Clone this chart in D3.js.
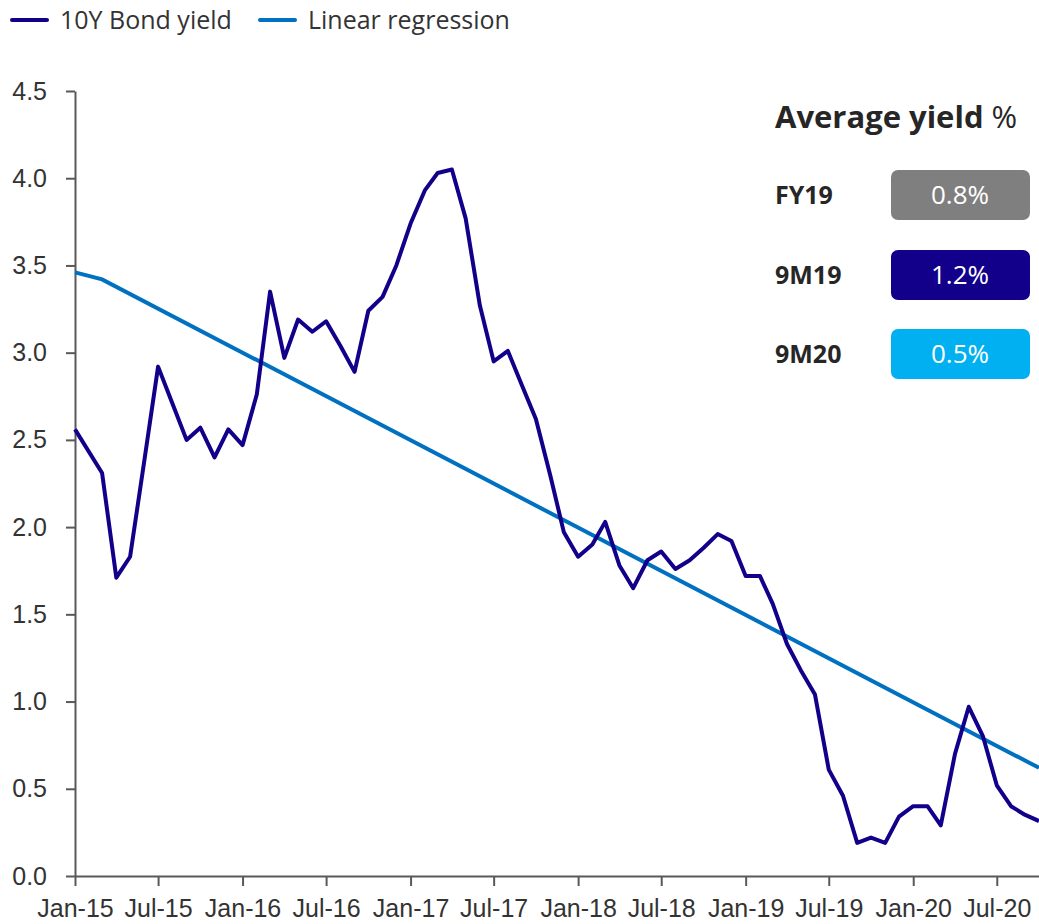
<!DOCTYPE html>
<html>
<head>
<meta charset="utf-8">
<script src="https://cdn.jsdelivr.net/npm/d3@7"></script>
<style>
  body { margin: 0; background: #fff; }
  svg { font-family: "Open Sans", "Noto Sans", sans-serif; }
</style>
</head>
<body>
<div id="chart"></div>
<script>

// months of the series (Feb-15 has no point)
var months = [
  "Jan-15","Mar-15","Apr-15","May-15","Jun-15","Jul-15","Aug-15","Sep-15","Oct-15","Nov-15","Dec-15",
  "Jan-16","Feb-16","Mar-16","Apr-16","May-16","Jun-16","Jul-16","Aug-16","Sep-16","Oct-16","Nov-16","Dec-16",
  "Jan-17","Feb-17","Mar-17","Apr-17","May-17","Jun-17","Jul-17","Aug-17","Sep-17","Oct-17","Nov-17","Dec-17",
  "Jan-18","Feb-18","Mar-18","Apr-18","May-18","Jun-18","Jul-18","Aug-18","Sep-18","Oct-18","Nov-18","Dec-18",
  "Jan-19","Feb-19","Mar-19","Apr-19","May-19","Jun-19","Jul-19","Aug-19","Sep-19","Oct-19","Nov-19","Dec-19",
  "Jan-20","Feb-20","Mar-20","Apr-20","May-20","Jun-20","Jul-20","Aug-20","Sep-20","Oct-20"
];

var bondYield = [
  2.56, 2.31, 1.71, 1.83, 2.38, 2.92, 2.71, 2.50, 2.57, 2.40, 2.56,
  2.47, 2.76, 3.35, 2.97, 3.19, 3.12, 3.18, 3.04, 2.89, 3.24, 3.32, 3.50,
  3.74, 3.93, 4.03, 4.05, 3.77, 3.27, 2.95, 3.01, 2.81, 2.62, 2.30, 1.97,
  1.83, 1.90, 2.03, 1.78, 1.65, 1.81, 1.86, 1.76, 1.81, 1.88, 1.96, 1.92,
  1.72, 1.72, 1.56, 1.33, 1.18, 1.04, 0.61, 0.46, 0.19, 0.22, 0.19, 0.34,
  0.40, 0.40, 0.29, 0.70, 0.97, 0.80, 0.52, 0.40, 0.35, 0.315
];

// regression line, read at its ends and at the kink
var regMonths = ["Jan-15", "Mar-15", "Oct-20"];
var regValues = [3.46, 3.42, 0.62];

var tickMonths = ["Jan-15","Jul-15","Jan-16","Jul-16","Jan-17","Jul-17","Jan-18","Jul-18","Jan-19","Jul-19","Jan-20","Jul-20"];
var yTicks = [0, 0.5, 1, 1.5, 2, 2.5, 3, 3.5, 4, 4.5];

var avgLabels = ["FY19", "9M19", "9M20"];
var avgValues = ["0.8%", "1.2%", "0.5%"];
var avgColors = ["#7f7f7f", "#12008a", "#00b0f0"];

var svgWidth = 1039;
var svgHeight = 924;

var parseMonth = d3.timeParse("%b-%y");

var svg = d3.select("#chart")
  .append("svg")
  .attr("width", svgWidth)
  .attr("height", svgHeight);

var x = d3.scaleTime()
  .domain([parseMonth("Jan-15"), parseMonth("Oct-20")])
  .range([75, 1039]);

var y = d3.scaleLinear()
  .domain([0, 4.5])
  .range([876, 91]);

// axes
var xAxis = svg.append("g")
  .attr("transform", "translate(0,876)")
  .call(d3.axisBottom(x)
    .tickValues(tickMonths.map(parseMonth))
    .tickFormat(d3.timeFormat("%b-%y"))
    .tickSize(10)
    .tickSizeOuter(0)
    .tickPadding(13));

var yAxis = svg.append("g")
  .attr("transform", "translate(75,0)")
  .call(d3.axisLeft(y)
    .tickValues(yTicks)
    .tickFormat(d3.format(".1f"))
    .tickSize(9)
    .tickSizeOuter(0)
    .tickPadding(19));

[xAxis, yAxis].forEach(function(g) {
  g.select(".domain").attr("stroke", "#595959").attr("stroke-width", 2);
  g.selectAll(".tick line").attr("stroke", "#595959").attr("stroke-width", 2);
  g.selectAll(".tick text")
    .attr("fill", "#333")
    .attr("font-size", 25);
});

// lines
var bondData = months.map(function(m, i) { return { date: parseMonth(m), value: bondYield[i] }; });
var regData = regMonths.map(function(m, i) { return { date: parseMonth(m), value: regValues[i] }; });

var line = d3.line()
  .x(d => x(d.date))
  .y(d => y(d.value));

svg.append("path")
  .datum(regData)
  .attr("d", line)
  .attr("fill", "none")
  .attr("stroke", "#0070c0")
  .attr("stroke-width", 4);

svg.append("path")
  .datum(bondData)
  .attr("d", line)
  .attr("fill", "none")
  .attr("stroke", "#12008a")
  .attr("stroke-width", 4)
  .attr("stroke-linejoin", "round");

// legend
var legend = [
  { name: "10Y Bond yield", color: "#12008a", x: 12 },
  { name: "Linear regression", color: "#0070c0", x: 260 }
];
legend.forEach(function(l) {
  svg.append("line")
    .attr("x1", l.x).attr("x2", l.x + 35)
    .attr("y1", 20).attr("y2", 20)
    .attr("stroke", l.color)
    .attr("stroke-width", 4)
    .attr("stroke-linecap", "round");
  svg.append("text")
    .attr("x", l.x + 48)
    .attr("y", 29)
    .attr("font-size", 25)
    .attr("fill", "#333")
    .text(l.name);
});

// average yield panel
var title = svg.append("text")
  .attr("x", 775)
  .attr("y", 128)
  .attr("font-size", 31)
  .attr("fill", "#262626");
title.append("tspan").attr("font-weight", "bold").text("Average yield ");
title.append("tspan").text("%");

var boxTops = [170, 250, 329];
avgLabels.forEach(function(lbl, i) {
  svg.append("text")
    .attr("x", 775)
    .attr("y", boxTops[i] + 34)
    .attr("font-size", 25)
    .attr("font-weight", "bold")
    .attr("fill", "#262626")
    .text(lbl);
  svg.append("rect")
    .attr("x", 891)
    .attr("y", boxTops[i])
    .attr("width", 139)
    .attr("height", 50)
    .attr("rx", 7)
    .attr("fill", avgColors[i]);
  svg.append("text")
    .attr("x", 960)
    .attr("y", boxTops[i] + 34)
    .attr("text-anchor", "middle")
    .attr("font-size", 26)
    .attr("fill", "#fff")
    .text(avgValues[i]);
});

</script>
</body>
</html>
